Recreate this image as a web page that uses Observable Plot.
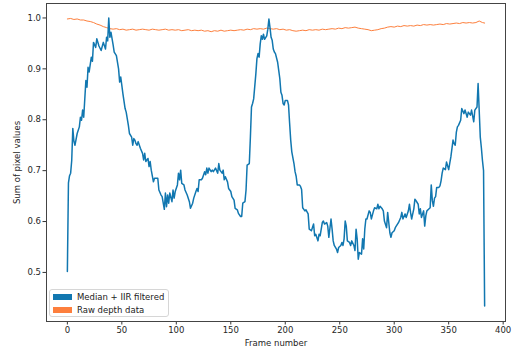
<!DOCTYPE html>
<html><head><meta charset="utf-8">
<script src="https://cdn.jsdelivr.net/npm/d3@7"></script>
<script src="https://cdn.jsdelivr.net/npm/@observablehq/plot@0.6"></script>
<style>
body{margin:0;background:#fff;}
#wrap{position:relative;width:512px;height:351px;overflow:hidden;}
.legend{position:absolute;left:49px;top:289px;width:118px;height:26px;border:1px solid #d6d6d6;border-radius:3px;background:rgba(255,255,255,0.8);font-family:"DejaVu Sans";font-size:8.5px;color:#222;}
.legend .sw{position:absolute;left:3px;width:19px;height:6px;}
.legend .lb{position:absolute;left:27px;white-space:nowrap;line-height:10px;}
</style></head>
<body><div id="wrap"></div>
<script>
const seriesNames = ["Median + IIR filtered", "Raw depth data"];
const seriesColors = ["#1177b0", "#fd7f3d"];
const xTicks = [0, 50, 100, 150, 200, 250, 300, 350, 400];
const yTicks = [0.5, 0.6, 0.7, 0.8, 0.9, 1.0];
const xLabel = "Frame number";
const yLabel = "Sum of pixel values";

const filteredFrames = [0,1,2,3,4,5,6,7,9,11,12,13,14,15,17,18,19,20,22,23,24,26,27,29,31,33,35,36,37,38,39,40,42,43,45,47,48,49,51,53,54,56,57,59,60,61,62,63,64,65,67,69,70,71,72,74,75,76,77,79,80,83,84,86,87,89,90,91,92,93,94,96,97,98,99,101,102,103,104,105,107,108,110,112,113,115,116,118,119,120,121,123,124,126,127,128,129,130,132,133,134,136,138,139,140,141,142,143,144,145,147,148,150,151,153,154,156,157,159,160,161,163,164,165,167,168,169,170,171,173,174,175,176,177,178,179,180,181,183,184,185,186,187,188,189,190,191,193,194,195,196,197,198,199,200,202,203,204,205,206,208,209,210,211,213,214,215,216,218,219,221,222,224,226,227,228,230,231,232,234,235,236,238,239,240,242,243,244,245,247,248,249,251,252,253,254,255,256,257,259,260,261,263,264,265,266,267,268,270,271,272,273,274,275,277,278,279,281,282,284,285,286,287,289,290,291,293,294,296,297,298,300,301,303,304,306,307,308,310,311,313,314,315,316,318,319,320,322,323,324,325,327,328,329,330,332,333,334,335,336,337,338,339,341,342,343,344,345,347,348,350,351,352,354,355,356,357,358,359,361,362,364,365,367,368,370,371,373,374,376,377,378,379,380,381,382,383];
const filteredValues = [0.502,0.676,0.690,0.695,0.720,0.783,0.758,0.750,0.773,0.786,0.805,0.799,0.819,0.805,0.877,0.864,0.903,0.894,0.923,0.915,0.952,0.942,0.959,0.945,0.936,0.952,0.939,0.962,0.955,1.000,0.962,0.972,0.947,0.933,0.926,0.900,0.874,0.884,0.851,0.822,0.815,0.789,0.773,0.766,0.750,0.763,0.760,0.753,0.750,0.757,0.744,0.734,0.721,0.734,0.718,0.724,0.708,0.718,0.701,0.678,0.685,0.685,0.662,0.652,0.649,0.624,0.656,0.629,0.652,0.636,0.656,0.639,0.662,0.646,0.659,0.672,0.695,0.682,0.701,0.675,0.672,0.662,0.652,0.639,0.626,0.636,0.646,0.659,0.665,0.659,0.682,0.682,0.685,0.698,0.692,0.705,0.695,0.705,0.698,0.701,0.698,0.705,0.695,0.714,0.701,0.698,0.695,0.701,0.682,0.688,0.678,0.665,0.659,0.649,0.642,0.626,0.623,0.616,0.610,0.610,0.636,0.639,0.662,0.711,0.714,0.766,0.825,0.832,0.841,0.890,0.920,0.930,0.923,0.949,0.965,0.958,0.968,0.958,0.965,0.978,0.998,0.981,0.962,0.956,0.939,0.933,0.930,0.913,0.897,0.881,0.854,0.848,0.832,0.829,0.838,0.838,0.829,0.793,0.760,0.737,0.714,0.698,0.689,0.672,0.672,0.669,0.663,0.627,0.621,0.623,0.615,0.585,0.582,0.595,0.572,0.575,0.562,0.575,0.572,0.598,0.601,0.595,0.598,0.591,0.569,0.605,0.585,0.562,0.553,0.546,0.539,0.549,0.553,0.559,0.553,0.566,0.601,0.591,0.562,0.559,0.553,0.562,0.553,0.543,0.585,0.566,0.526,0.539,0.536,0.566,0.546,0.585,0.605,0.605,0.621,0.618,0.605,0.621,0.627,0.625,0.634,0.625,0.630,0.625,0.621,0.601,0.588,0.618,0.578,0.569,0.578,0.582,0.588,0.595,0.598,0.608,0.618,0.605,0.615,0.608,0.621,0.634,0.618,0.605,0.625,0.644,0.641,0.634,0.615,0.625,0.608,0.621,0.591,0.611,0.621,0.625,0.627,0.672,0.641,0.630,0.646,0.649,0.667,0.667,0.670,0.680,0.695,0.705,0.702,0.717,0.702,0.715,0.727,0.760,0.753,0.750,0.775,0.786,0.789,0.799,0.822,0.812,0.819,0.805,0.815,0.809,0.819,0.796,0.819,0.825,0.871,0.819,0.766,0.745,0.720,0.700,0.434];

const rawFrames = [0,3,6,9,12,15,18,21,24,27,30,33,36,39,42,45,48,51,54,57,60,63,66,69,72,75,78,81,84,87,90,93,96,99,102,105,108,111,114,117,120,123,126,129,132,135,138,141,144,147,150,153,156,159,162,165,168,171,174,177,180,183,186,189,192,195,198,201,204,207,210,213,216,219,222,225,228,231,234,237,240,243,246,249,252,255,258,261,264,267,270,273,276,279,282,285,288,291,294,297,300,303,306,309,312,315,318,321,324,327,330,333,336,339,342,345,348,351,354,357,360,363,366,369,372,375,378,381,383];
const rawValues = [0.998,0.999,0.997,0.998,0.996,0.996,0.994,0.993,0.991,0.988,0.986,0.983,0.981,0.979,0.978,0.979,0.977,0.978,0.976,0.977,0.978,0.976,0.977,0.978,0.977,0.976,0.978,0.977,0.976,0.977,0.978,0.976,0.977,0.976,0.977,0.975,0.976,0.977,0.975,0.976,0.975,0.976,0.974,0.975,0.973,0.975,0.974,0.976,0.974,0.975,0.976,0.975,0.976,0.977,0.976,0.978,0.977,0.979,0.978,0.979,0.978,0.980,0.979,0.978,0.979,0.977,0.978,0.976,0.977,0.975,0.974,0.975,0.976,0.975,0.977,0.976,0.977,0.976,0.978,0.977,0.978,0.979,0.978,0.980,0.979,0.981,0.980,0.981,0.982,0.980,0.979,0.978,0.977,0.975,0.976,0.977,0.979,0.980,0.982,0.983,0.982,0.984,0.983,0.985,0.984,0.985,0.984,0.986,0.985,0.987,0.986,0.987,0.986,0.987,0.988,0.987,0.989,0.988,0.989,0.990,0.989,0.991,0.990,0.991,0.990,0.991,0.994,0.991,0.990];

const filtered = filteredFrames.map((f, i) => ({frame: f, value: filteredValues[i]}));
const raw = rawFrames.map((f, i) => ({frame: f, value: rawValues[i]}));

const chart = Plot.plot({
  width: 512, height: 351,
  marginLeft: 46, marginRight: 7, marginTop: 3, marginBottom: 30,
  style: {fontFamily: "DejaVu Sans", fontSize: "8.5px", color: "#262626", background: "white"},
  x: {domain: [-19.15, 402.15]},
  y: {domain: [0.4036, 1.0284]},
  marks: [
    Plot.axisX({ticks: xTicks, tickSize: 3.5, tickPadding: 2, stroke: "#333", label: xLabel, labelAnchor: "center", labelOffset: 24, labelArrow: "none"}),
    Plot.axisY({ticks: yTicks, tickSize: 3.5, tickPadding: 2, stroke: "#333", tickFormat: d => d.toFixed(1), label: yLabel, labelAnchor: "center", labelOffset: 33, labelArrow: "none"}),
    Plot.line(raw, {x: "frame", y: "value", stroke: seriesColors[1], strokeWidth: 1}),
    Plot.line(filtered, {x: "frame", y: "value", stroke: seriesColors[0], strokeWidth: 1.5}),
    Plot.frame({stroke: "#444", strokeWidth: 1})
  ]
});
const wrap = document.getElementById("wrap");
wrap.appendChild(chart);

const leg = document.createElement("div");
leg.className = "legend";
seriesNames.forEach((name, i) => {
  const sw = document.createElement("div");
  sw.className = "sw";
  sw.style.top = (4 + i * 13) + "px";
  sw.style.background = seriesColors[i];
  const lb = document.createElement("div");
  lb.className = "lb";
  lb.style.top = (2 + i * 13) + "px";
  lb.textContent = name;
  leg.appendChild(sw);
  leg.appendChild(lb);
});
wrap.appendChild(leg);
</script></body></html>
